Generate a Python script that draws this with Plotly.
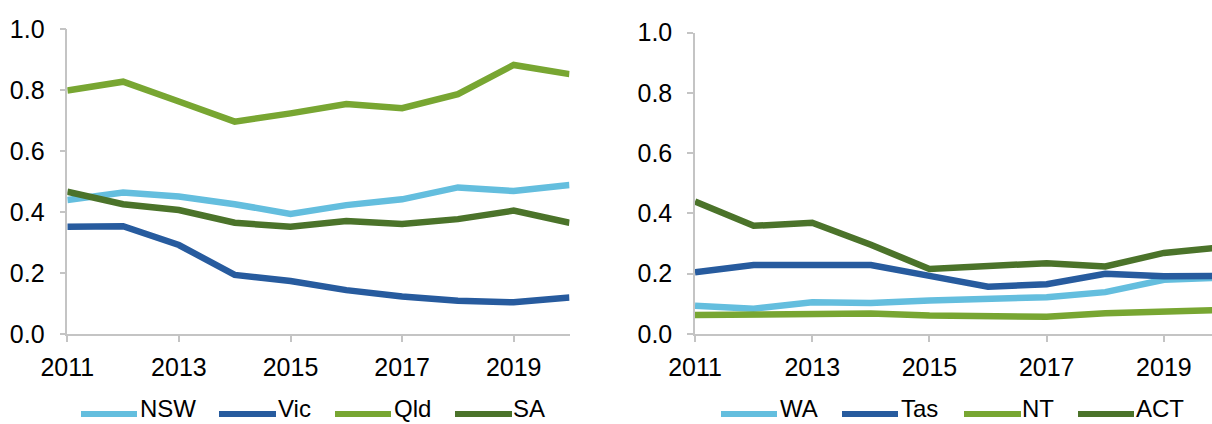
import plotly.graph_objects as go

# Years covered by both panels
years = [2011, 2012, 2013, 2014, 2015, 2016, 2017, 2018, 2019, 2020]

# Left panel: larger states
nsw = [0.440, 0.464, 0.451, 0.426, 0.394, 0.423, 0.442, 0.481, 0.469, 0.489]
vic = [0.352, 0.354, 0.292, 0.194, 0.174, 0.144, 0.123, 0.109, 0.104, 0.120]
qld = [0.799, 0.828, 0.763, 0.697, 0.724, 0.755, 0.741, 0.787, 0.883, 0.853]
sa = [0.467, 0.426, 0.407, 0.365, 0.352, 0.371, 0.361, 0.377, 0.405, 0.365]

# Right panel: smaller states and territories
wa = [0.094, 0.084, 0.105, 0.103, 0.111, 0.115, 0.122, 0.139, 0.180, 0.187]
tas = [0.205, 0.229, 0.229, 0.229, 0.193, 0.157, 0.165, 0.200, 0.192, 0.193]
nt = [0.063, 0.066, 0.069, 0.068, 0.061, 0.061, 0.057, 0.069, 0.072, 0.080]
act = [0.440, 0.359, 0.369, 0.296, 0.216, 0.223, 0.235, 0.224, 0.269, 0.288]

y_ticks = [0.0, 0.2, 0.4, 0.6, 0.8, 1.0]
y_tick_text = ["0.0", "0.2", "0.4", "0.6", "0.8", "1.0"]
x_ticks = [2011, 2013, 2015, 2017, 2019]

LIGHT_BLUE = "#64BEDE"
DARK_BLUE = "#275B9E"
LIGHT_GREEN = "#78A632"
DARK_GREEN = "#4B732A"
AXIS_GREY = "#C4C4C4"
FONT = "Liberation Sans, Arial, sans-serif"

W, H = 1212, 424

left_series = [("NSW", nsw, LIGHT_BLUE), ("Vic", vic, DARK_BLUE),
               ("Qld", qld, LIGHT_GREEN), ("SA", sa, DARK_GREEN)]
right_series = [("WA", wa, LIGHT_BLUE), ("Tas", tas, DARK_BLUE),
                ("NT", nt, LIGHT_GREEN), ("ACT", act, DARK_GREEN)]

fig = go.Figure()
for name, vals, col in left_series:
    fig.add_trace(go.Scatter(x=years, y=vals, name=name, mode="lines",
                             line=dict(color=col, width=6.5),
                             xaxis="x", yaxis="y", showlegend=False))
for name, vals, col in right_series:
    fig.add_trace(go.Scatter(x=years, y=vals, name=name, mode="lines",
                             line=dict(color=col, width=6.5),
                             xaxis="x2", yaxis="y2", showlegend=False))


def px_x(p):
    return p / W


def px_y(p):
    return 1 - p / H


axis_common = dict(showgrid=False, zeroline=False, showline=True,
                   automargin=False,
                   linecolor=AXIS_GREY, linewidth=1.5,
                   ticks="outside", ticklen=6, tickwidth=1.5,
                   tickcolor=AXIS_GREY,
                   tickfont=dict(family=FONT, size=25, color="#000000"))

xcommon = dict(axis_common, tickmode="array", tickvals=x_ticks,
               ticktext=[str(t) for t in x_ticks], ticklabelstandoff=4)
ycommon = dict(axis_common, tickmode="array", tickvals=y_ticks,
               ticktext=y_tick_text, range=[0, 1.0], ticklabelstandoff=10)

fig.update_layout(
    width=W, height=H,
    margin=dict(l=0, r=0, t=0, b=0),
    paper_bgcolor="white", plot_bgcolor="white",
    xaxis=dict(xcommon, domain=[px_x(67.3), px_x(569.5)],
               range=[2011, 2020], anchor="y"),
    yaxis=dict(ycommon, domain=[px_y(334), px_y(29.3)], anchor="x"),
    xaxis2=dict(xcommon, domain=[px_x(695), 1.0],
                range=[2011, 2019.82], anchor="y2"),
    yaxis2=dict(ycommon, domain=[px_y(334), px_y(32.7)], anchor="x2"),
)

# Legends drawn below each panel: swatch start/end and label start (px)
legend_items = [
    ("NSW", LIGHT_BLUE, 81, 137, 139),
    ("Vic", DARK_BLUE, 219, 276, 277),
    ("Qld", LIGHT_GREEN, 335, 391, 393),
    ("SA", DARK_GREEN, 455, 512, 512),
    ("WA", LIGHT_BLUE, 721, 777, 779),
    ("Tas", DARK_BLUE, 842, 898, 900),
    ("NT", LIGHT_GREEN, 964, 1021, 1021),
    ("ACT", DARK_GREEN, 1078, 1134, 1135),
]
legend_y = 414
for label, col, x0, x1, xt in legend_items:
    fig.add_shape(type="line", xref="paper", yref="paper",
                  x0=px_x(x0), x1=px_x(x1), y0=px_y(legend_y), y1=px_y(legend_y),
                  line=dict(color=col, width=6))
    fig.add_annotation(xref="paper", yref="paper", x=px_x(xt), y=0.002,
                       text=label, showarrow=False, xanchor="left", yanchor="bottom",
                       borderpad=0,
                       font=dict(family=FONT, size=24, color="#000000"))

fig.write_html("out.html")
